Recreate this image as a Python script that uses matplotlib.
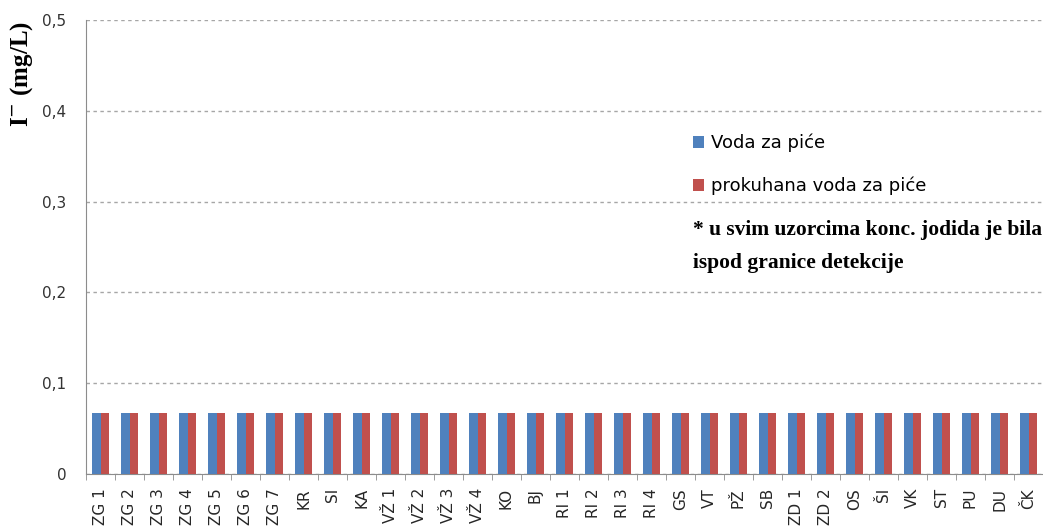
import numpy as np
import matplotlib.pyplot as plt

# sample sites
sites = ["ZG 1", "ZG 2", "ZG 3", "ZG 4", "ZG 5", "ZG 6", "ZG 7", "KR", "SI", "KA",
         "VŽ 1", "VŽ 2", "VŽ 3", "VŽ 4", "KO", "BJ", "RI 1", "RI 2", "RI 3", "RI 4",
         "GS", "VT", "PŽ", "SB", "ZD 1", "ZD 2", "OS", "ŠI", "VK", "ST", "PU", "DU", "ČK"]

# iodide below detection limit everywhere -> bars drawn at the limit
voda = [0.067] * len(sites)
prokuhana = [0.067] * len(sites)

yticks = [0, 0.1, 0.2, 0.3, 0.4, 0.5]
ytick_labels = ["0", "0,1", "0,2", "0,3", "0,4", "0,5"]

W, H = 1043, 530
fig = plt.figure(figsize=(W / 100, H / 100), dpi=100)
ax = fig.add_axes([86 / W, 1 - 474 / H, (1043 - 86) / W, (474 - 20) / H])

x = np.arange(len(sites))
w = 0.285
ax.bar(x - w/2, voda, w, color="#4F81BD", label="Voda za piće", zorder=3)
ax.bar(x + w/2, prokuhana, w, color="#C0504D", label="prokuhana voda za piće", zorder=3)

ax.set_xlim(-0.5, len(sites) - 0.5)
ax.set_ylim(0, 0.5)
ax.set_yticks(yticks)
ax.set_yticklabels(ytick_labels, fontsize=11, color="#333333")
ax.set_xticks(x)
ax.set_xticklabels(sites, rotation=90, fontsize=11, color="#262626")
ax.tick_params(axis="x", length=0, pad=10)
ax.tick_params(axis="y", length=0, pad=14)
# little ticks between the categories
ax.set_xticks(np.arange(-0.5, len(sites), 1), minor=True)
ax.tick_params(axis="x", which="minor", length=4, color="#8c8c8c")

ax.grid(axis="y", linestyle=(0, (2.5, 2.5)), color="#a6a6a6", linewidth=1, zorder=0)
for s in ["top", "right"]:
    ax.spines[s].set_visible(False)
ax.spines["left"].set_color("#8c8c8c")
ax.spines["bottom"].set_color("#8c8c8c")

fig.text(22 / W, 1 - 74 / H, "I$^{-}$ (mg/L)", rotation=90, ha="center", va="center",
         fontsize=18, fontweight="bold", family="Liberation Serif")

fig.legend(*ax.get_legend_handles_labels(), loc="upper left",
           bbox_to_anchor=(693 / W, 1 - 134 / H), frameon=False, fontsize=13,
           borderpad=0, borderaxespad=0, handlelength=0.6, handleheight=0.6,
           handletextpad=0.4, labelspacing=1.35)

note = ["* u svim uzorcima konc. jodida je bila", "ispod granice detekcije"]
for i, line in enumerate(note):
    fig.text(693 / W, 1 - (230 + 33 * i) / H, line, fontsize=15.5, fontweight="bold",
             family="Liberation Serif", ha="left", va="center")

fig.savefig("out.png", dpi=100)
